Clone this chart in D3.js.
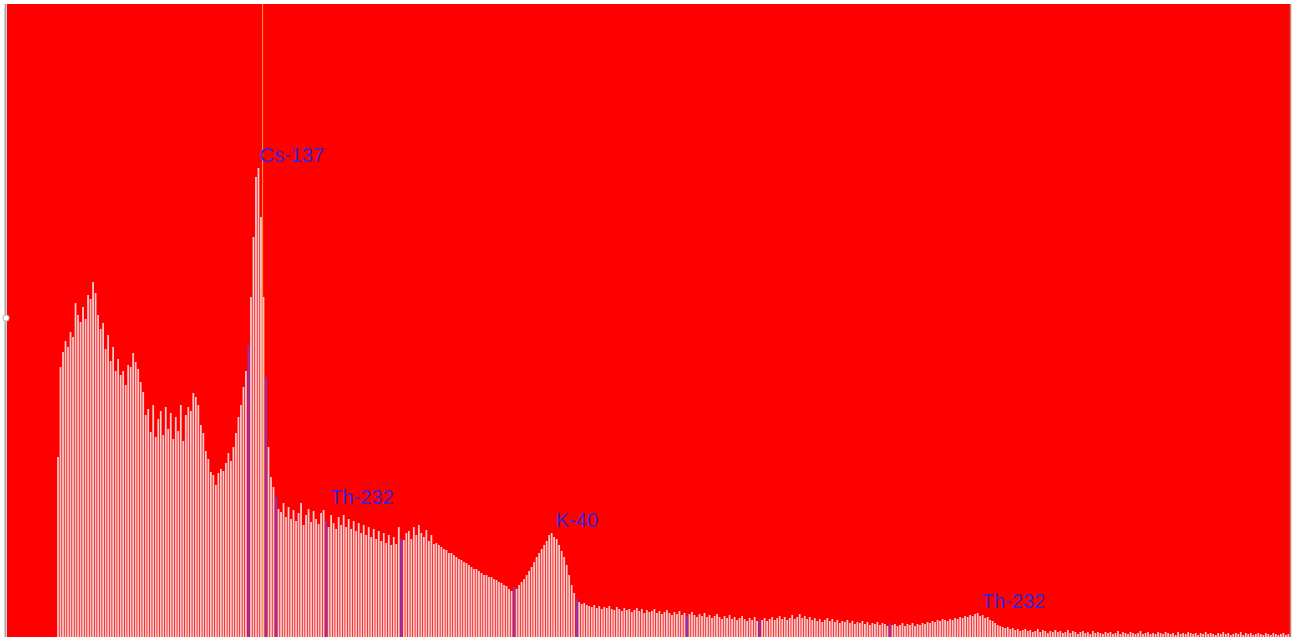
<!DOCTYPE html>
<html>
<head>
<meta charset="utf-8">
<script src="https://cdn.jsdelivr.net/npm/d3@7"></script>
<style>
  html, body { margin: 0; padding: 0; background: #ffffff; }
  svg { display: block; }
</style>
</head>
<body>
<svg id="chart" width="1296" height="637"></svg>
<script>
// Gamma spectrum: counts per channel (512 channels)
const counts = [
  0,0,0,0,0,0,0,0,0,0,0,0,0,0,0,0,0,0,0,0,
  180,270,285,296,290,305,300,334,322,315,330,318,342,338,355,344,322,308,314,288,
  302,276,290,266,278,262,266,252,272,270,284,275,268,255,245,222,228,205,232,200,
  218,226,202,230,208,224,198,220,206,232,196,222,230,226,244,240,232,212,204,186,
  178,165,162,152,164,168,166,174,184,176,190,204,220,232,250,266,292,340,400,460,
  469,420,340,260,190,160,150,140,128,125,134,120,130,118,127,116,124,134,112,122,
  128,115,126,118,113,124,127,116,110,122,114,108,120,112,122,110,118,108,116,106,
  114,104,112,102,110,100,108,98,106,96,104,94,102,92,100,93,110,98,97,104,
  106,98,110,102,112,104,100,107,96,102,93,94,92,90,88,87,84,84,82,80,
  78,77,75,74,72,70,68,68,66,64,62,62,60,60,58,57,55,54,52,51,
  48,46,50,48,52,55,58,62,66,70,75,80,84,88,92,96,102,104,100,98,
  92,86,80,72,62,52,44,38,35,33,34,32,31,30,32,29,31,28,30,29,
  31,28,27,30,28,26,29,27,28,25,27,29,26,28,24,27,25,26,28,24,
  26,23,25,27,24,22,25,23,26,22,24,21,23,25,22,20,23,21,24,20,
  22,19,21,23,20,18,21,19,22,18,20,17,19,21,18,16,19,17,20,16,
  18,17,19,16,18,20,17,19,21,18,20,17,19,22,18,20,23,19,21,18,
  20,17,19,16,18,15,17,19,16,18,15,17,14,16,15,17,14,16,13,15,
  14,16,13,15,12,14,13,15,12,14,13,11,14,12,13,11,12,14,11,13,
  12,14,11,13,12,14,13,15,14,16,15,17,16,18,17,16,18,17,19,18,
  20,19,21,20,22,21,23,24,21,22,19,20,17,16,14,12,11,10,9,10,
  8,9,7,8,6,7,8,6,7,5,6,8,5,7,6,4,6,5,7,5,
  6,4,5,7,4,6,5,3,5,6,4,5,3,6,4,5,4,3,5,4,
  5,3,4,6,3,5,4,3,5,4,3,4,6,3,4,5,3,4,3,5,
  4,3,5,4,3,4,2,5,3,4,3,5,4,3,4,2,4,3,5,3,
  4,3,2,4,3,5,3,4,2,3,4,3,5,2,4,3,4,2,3,4,
  3,2,4,3,2,4,3,2,3,4,2,3
];

// Channels belonging to regions of interest (drawn in violet)
const roiChannels = [96, 103, 107, 127, 157, 202, 227, 271, 300, 352];

// Nuclide labels: name, channel, count level where the label sits
const peakNames    = ["Cs-137", "Th-232", "K-40", "Th-232"];
const peakChannels = [100.8, 129, 219, 389];
const peakLevels   = [475, 133, 110, 29];

// Cursor channel
const cursorChannel = 102;

const nChannels = 512;
const yMaxCounts = 633;

const svg = d3.select("#chart");
const plotLeft = 7, plotRight = 1290, plotTop = 4, plotBottom = 637;

const x = d3.scaleLinear().domain([0, nChannels]).range([plotLeft, plotRight]);
const y = d3.scaleLinear().domain([0, yMaxCounts]).range([plotBottom, plotTop]);

// plot background
svg.append("rect")
  .attr("x", plotLeft).attr("y", plotTop)
  .attr("width", plotRight - plotLeft).attr("height", plotBottom - plotTop)
  .attr("fill", "#ff0000");

// spectrum bars
const roiSet = new Set(roiChannels);
const bw = (x(1) - x(0)) * 0.7;
svg.append("g")
  .selectAll("rect")
  .data(counts)
  .join("rect")
  .attr("x", (d, i) => x(i))
  .attr("y", d => y(d))
  .attr("width", bw)
  .attr("height", d => y(0) - y(d))
  .attr("fill", (d, i) => roiSet.has(i) ? "#7b3ad0" : "#f4cccc");

// cursor
svg.append("line")
  .attr("x1", x(cursorChannel)).attr("x2", x(cursorChannel))
  .attr("y1", plotTop).attr("y2", plotBottom)
  .attr("stroke", "#ffa030").attr("stroke-width", 1);

// peak labels
svg.append("g")
  .selectAll("text")
  .data(peakNames)
  .join("text")
  .attr("x", (d, i) => x(peakChannels[i]))
  .attr("y", (d, i) => y(peakLevels[i]))
  .attr("font-family", "Liberation Sans, Arial, sans-serif")
  .attr("font-size", 20)
  .attr("fill", "#3a22d8")
  .text(d => d);

// frame edges
svg.append("line")
  .attr("x1", plotLeft - 1.5).attr("x2", plotLeft - 1.5)
  .attr("y1", plotTop).attr("y2", plotBottom)
  .attr("stroke", "#a8a8a8").attr("stroke-width", 2);
svg.append("line")
  .attr("x1", plotRight + 0.5).attr("x2", plotRight + 0.5)
  .attr("y1", plotTop).attr("y2", plotBottom)
  .attr("stroke", "#c47a7a").attr("stroke-width", 1.5);

// splitter handle on the left edge
svg.append("circle")
  .attr("cx", plotLeft - 1).attr("cy", 318).attr("r", 3.2)
  .attr("fill", "#ffffff").attr("stroke", "#b0b0b0").attr("stroke-width", 1);
</script>
</body>
</html>
